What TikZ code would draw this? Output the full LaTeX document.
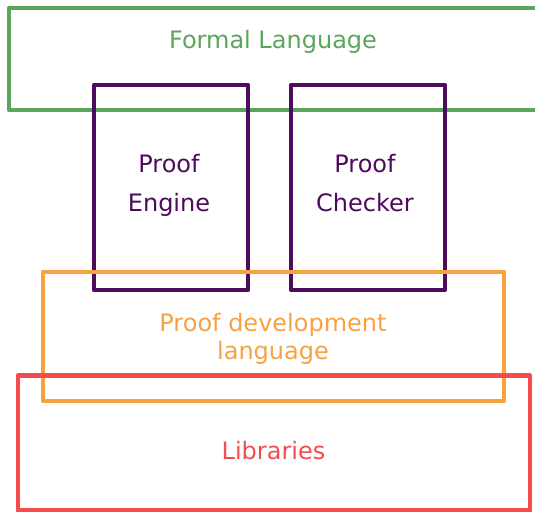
\documentclass[tikz,border=0pt]{standalone}
\usepackage{fontspec}
\setmainfont{DejaVu Sans}
\usepackage{tikz}
\definecolor{formalgreen}{HTML}{5AA55A}
\definecolor{proofpurple}{HTML}{4E0A5C}
\definecolor{devorange}{HTML}{F7A143}
\definecolor{libred}{HTML}{F44C4C}
\tikzset{layer/.style={rectangle, line width=4.3pt, line join=round, inner sep=0pt},
         layertext/.style={align=center, font=\fontsize{24}{28}\selectfont}}
\newcommand{\layerbox}[5] {\node at (#2) (#1) [layer, draw=#5, minimum width=#3, minimum height=#4] {};}
\newcommand{\layerlabel}[4] {\node at (#2) (#1) [layertext, text=#4] {#3};}

\begin{document}
\begin{tikzpicture}[x=1pt,y=-1pt]
\useasboundingbox (0,0) rectangle (535,511);
% back to front: green, purple, orange, red
\layerbox {formal} {304.5,59} {591pt} {102pt} {formalgreen};
\layerbox {engine} {171,187.5} {154pt} {205pt} {proofpurple};
\layerbox {checker} {368,187.5} {154pt} {205pt} {proofpurple};
\layerbox {devlang} {273.5,336.5} {461pt} {129pt} {devorange};
\layerbox {libs} {274,443} {512pt} {135pt} {libred};

\layerlabel {formaltext} {273,42} {Formal Language} {formalgreen};
\layerlabel {enginetext} {169,185} {Proof\\[11pt]Engine} {proofpurple};
\layerlabel {checkertext} {365,183.5} {Proof\\[11pt]Checker} {proofpurple};
\layerlabel {devlangtext} {273,339} {Proof development\\language} {devorange};
\layerlabel {libstext} {273.5,451} {Libraries} {libred};
\end{tikzpicture}
\end{document}
